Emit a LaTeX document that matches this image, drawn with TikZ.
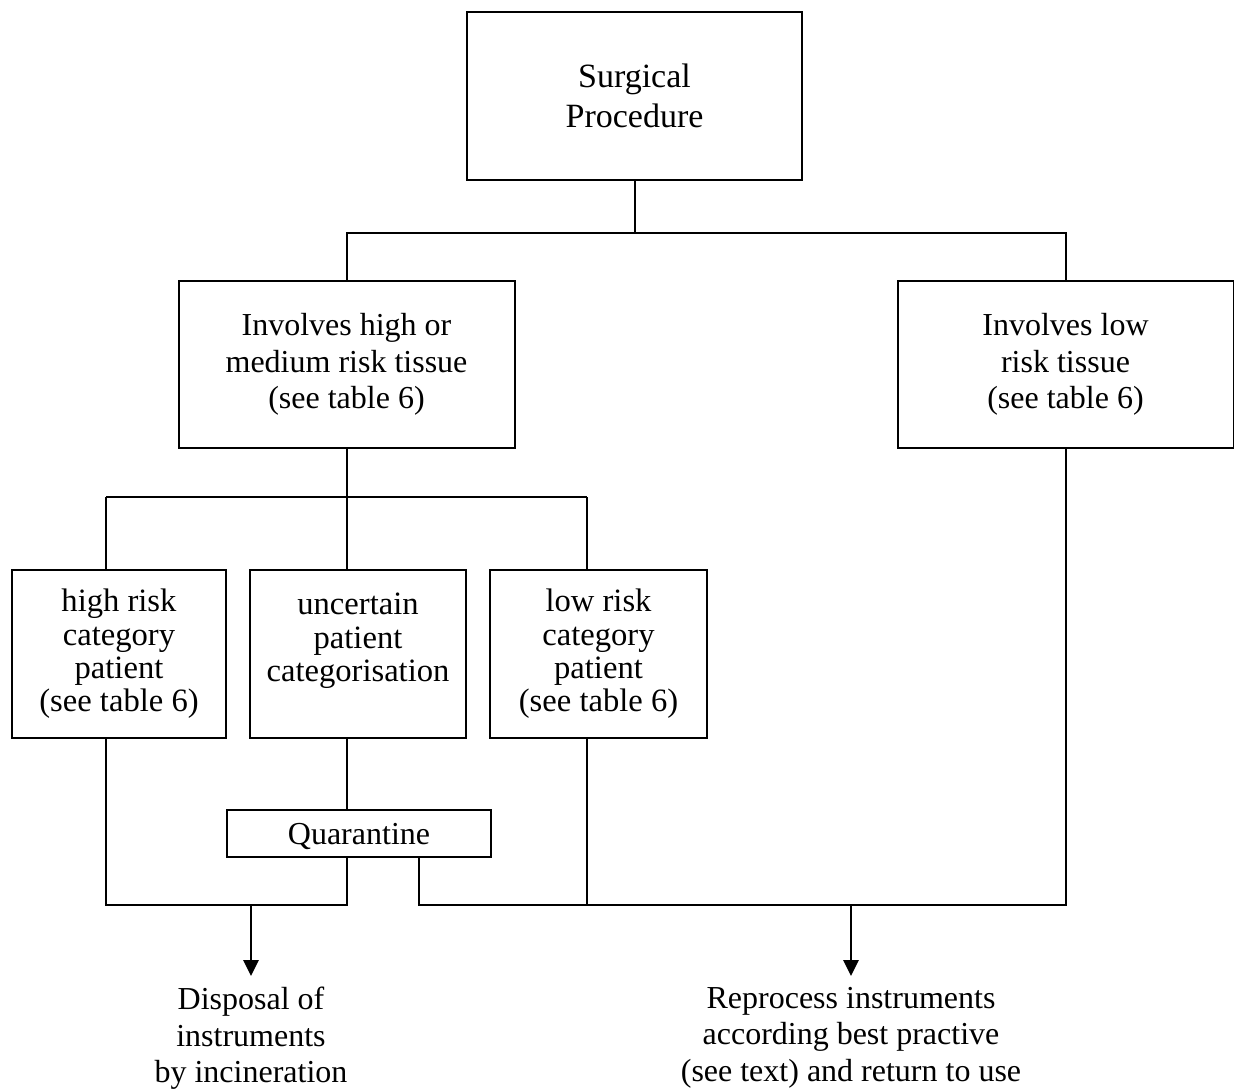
\documentclass[tikz,border=0pt]{standalone}
\usepackage{fontspec}
\setmainfont{Liberation Serif}
\usepackage{tikz}
\usetikzlibrary{arrows.meta}

\begin{document}
\begin{tikzpicture}[
		x = 0.5pt, y = -0.5pt,
		line width = 1pt,
		box/.style     = {draw, align=center, inner sep=0pt,
			font=\fontsize{16}{18.25}\selectfont},
		tissue/.style  = {box, minimum width=168pt, minimum height=83.5pt},
		patient/.style = {box, minimum height=84pt,
			font=\fontsize{16.3}{16.7}\selectfont},
		outcome/.style = {align=center, inner xsep=0pt, inner ysep=5pt, anchor=north,
			font=\fontsize{16}{18.25}\selectfont},
		flow/.style    = {line width=1.4pt, -{Triangle[length=8pt, width=7.5pt]}}
	]
	\useasboundingbox (0,0) rectangle (1234,1090);

	% boxes
	\node [box, minimum width=167.5pt, minimum height=84pt,
		font=\fontsize{17}{20}\selectfont] (surgery) at (634.5,96) {Surgical\\Procedure};
	\node [tissue] (hightissue) at (346.5,364.5) {Involves high or\\medium risk tissue\\(see table 6)};
	\node [tissue] (lowtissue) at (1065.5,364.5) {Involves low\\risk tissue\\(see table 6)};
	\node [patient, minimum width=107pt] (highpatient) at (119,654) {high risk\\category\\patient\\(see table 6)};
	\node [patient, minimum width=108pt] (uncertain) at (358,654) {uncertain\\patient\\categorisation\\~};
	\node [patient, minimum width=108.5pt] (lowpatient) at (598.5,654) {low risk\\category\\patient\\(see table 6)};
	\node [box, text depth=0pt, minimum width=132pt, minimum height=23.5pt] (quarantine) at (359,833.5) {Quarantine};

	% outcomes
	\node [outcome] (dispose) at (251,976) {Disposal of\\instruments\\by incineration};
	\node [outcome] (reprocess) at (851,976) {Reprocess instruments\\according best practive\\(see text) and return to use};

	% junctions
	\coordinate (topbus) at (634.5,233);
	\coordinate (midbus) at (346.5,497);
	\coordinate (midleft) at (106,497);
	\coordinate (midright) at (587,497);
	\coordinate (leftbus) at (106,905);
	\coordinate (rightbus) at (419,905);
	\coordinate (disposestart) at (251,905);
	\coordinate (reprocessstart) at (851,905);

	% connectors
	\draw (surgery) -- (topbus);
	\draw (hightissue.north) |- (topbus) -| (lowtissue.north);
	\draw (hightissue) -- (midbus);
	\draw (midleft) -- (midright);
	\draw (midleft) -- (midleft |- highpatient.north);
	\draw (midbus) -- (midbus |- uncertain.north);
	\draw (midright) -- (midright |- lowpatient.north);
	\draw (midbus |- uncertain.south) -- (midbus |- quarantine.north);
	\draw (leftbus |- highpatient.south) -- (leftbus) -- (leftbus -| midbus) -- (midbus |- quarantine.south);
	\draw (rightbus |- quarantine.south) -- (rightbus) -- (rightbus -| lowtissue.south) -- (lowtissue.south);
	\draw (midright |- lowpatient.south) -- (midright |- rightbus);
	\draw [flow] (disposestart) -- (dispose);
	\draw [flow] (reprocessstart) -- (reprocess);
\end{tikzpicture}
\end{document}
